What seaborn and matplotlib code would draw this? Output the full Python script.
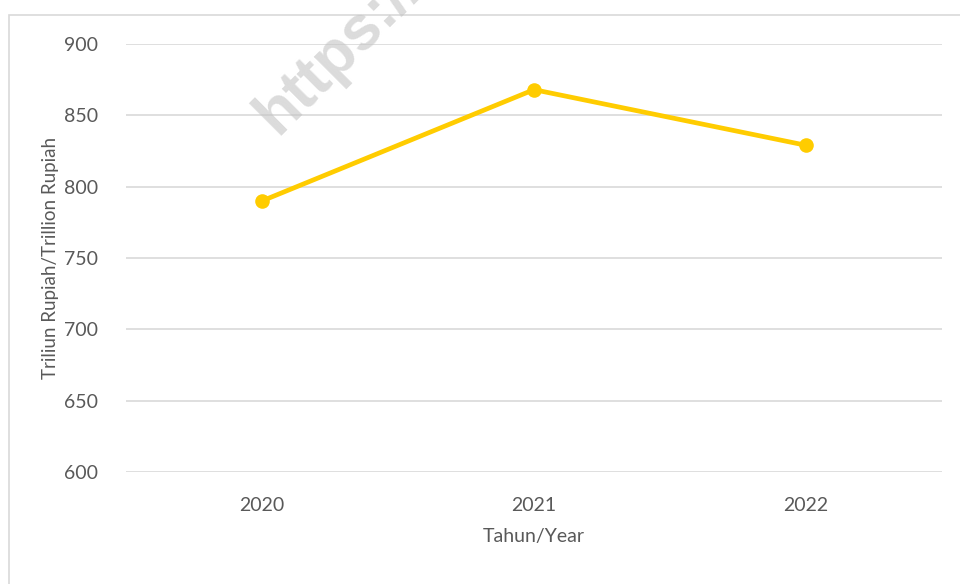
import seaborn as sns
import matplotlib.pyplot as plt
import pandas as pd
from matplotlib.patches import Rectangle

# data
years = ["2020", "2021", "2022"]
values = [790, 868, 829]
y_ticks = [600, 650, 700, 750, 800, 850, 900]

TEXT = "#595959"
GRID = "#d9d9d9"
LINE = "#FFCC00"

sns.set_style("white")
plt.rcParams["font.family"] = ["Lato", "DejaVu Sans"]

df = pd.DataFrame({"year": years, "value": values})

fig = plt.figure(figsize=(9.6, 5.84), dpi=100)
ax = fig.add_axes([126 / 960, 1 - 472 / 584, (942 - 126) / 960, (472 - 44) / 584])

# watermark behind everything
fig.text(277 / 960, 1 - 136 / 584, "https://", rotation=45, rotation_mode="anchor",
         ha="left", va="baseline", fontsize=45, fontweight="bold",
         family="Liberation Sans", color="#c4c4c4", alpha=0.6, zorder=0)

for t in y_ticks:
    ax.axhline(t, color=GRID, lw=1.2, zorder=1)

sns.lineplot(data=df, x="year", y="value", ax=ax, color=LINE, lw=3.4,
             marker="o", markersize=10.5, markeredgewidth=0, zorder=3, sort=False)

ax.set_xlim(-0.5, 2.5)
ax.set_ylim(600, 900)
ax.set_yticks(y_ticks)
ax.set_xticks(range(len(years)))
ax.set_xticklabels(years)
ax.tick_params(axis="both", length=0, labelsize=14, labelcolor=TEXT)
ax.tick_params(axis="y", pad=20)
ax.tick_params(axis="x", pad=18)
ax.set_xlabel("Tahun/Year", fontsize=14, color=TEXT, labelpad=10)
ax.set_ylabel("Triliun Rupiah/Trillion Rupiah", fontsize=13.5, color=TEXT, labelpad=4)
for s in ax.spines.values():
    s.set_visible(False)
ax.patch.set_alpha(0)

# outer chart border (left and top visible)
fig.patches.append(Rectangle((8.5 / 960, -0.5), 2, 0.5 + (1 - 14.5 / 584),
                             transform=fig.transFigure, fill=False,
                             edgecolor=GRID, lw=1.2, zorder=0))

fig.savefig("out.png", dpi=100)
